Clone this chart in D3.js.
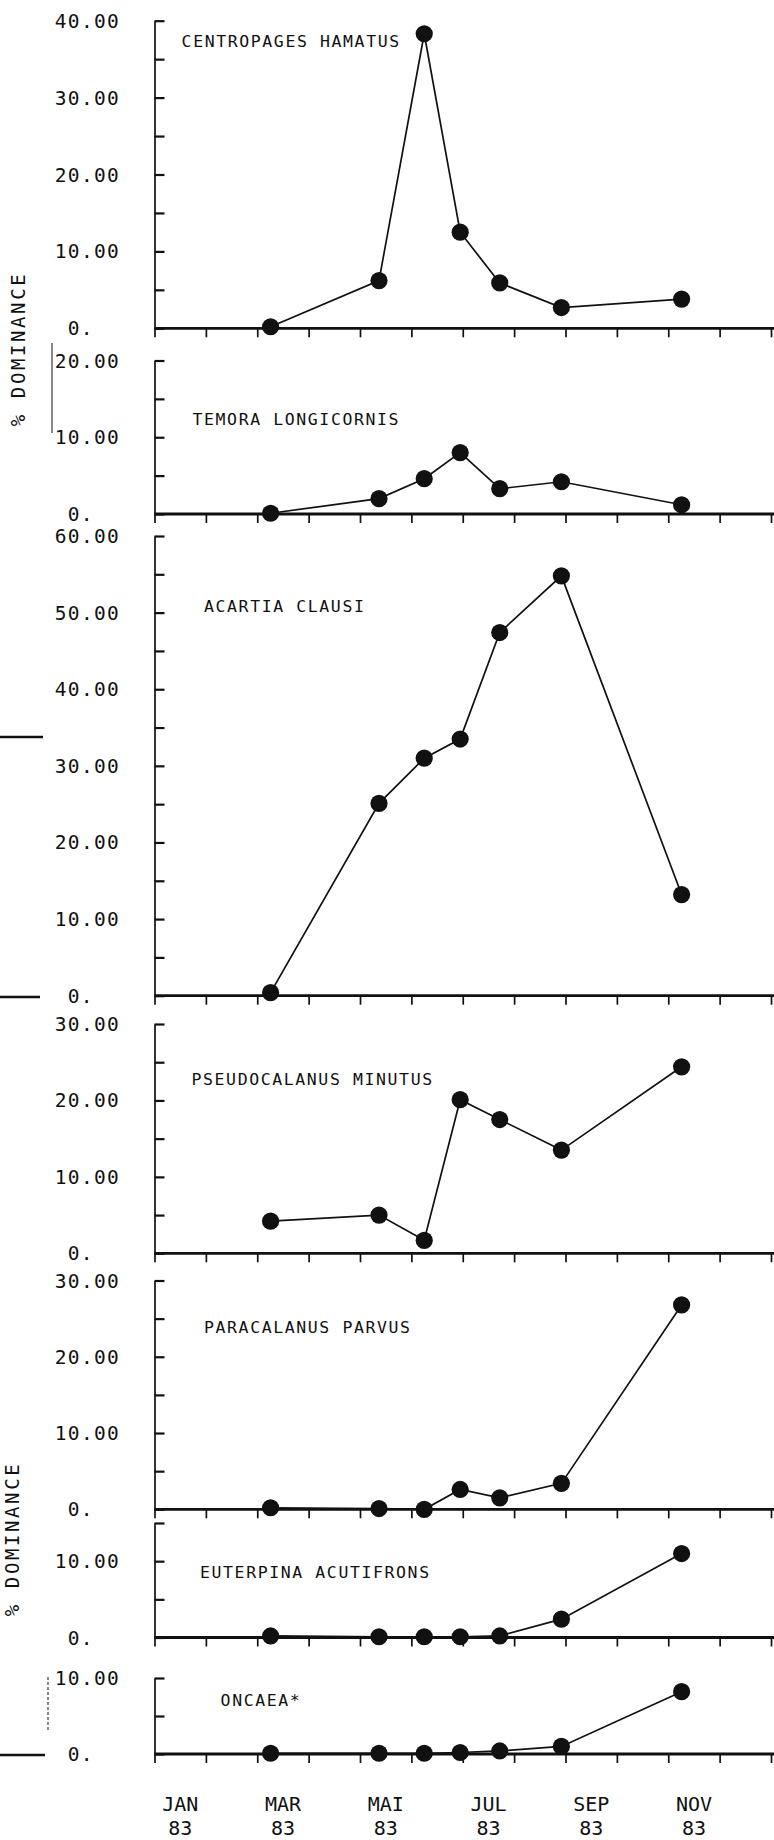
<!DOCTYPE html>
<html><head><meta charset="utf-8">
<script src="https://cdn.jsdelivr.net/npm/d3@7"></script>
<style>
html,body{margin:0;padding:0;background:#fff;}
svg{display:block;}
text{font-family:"DejaVu Sans Mono",monospace;fill:#111;}
</style></head><body>
<svg id="chart" width="774" height="1840"></svg>
<script>
// ---- data ----
const sampleMonths = [2.26, 4.37, 5.25, 5.95, 6.72, 7.92, 10.26]; // months since 1 Jan 1983
const speciesNames = ["CENTROPAGES HAMATUS", "TEMORA LONGICORNIS", "ACARTIA CLAUSI",
  "PSEUDOCALANUS MINUTUS", "PARACALANUS PARVUS", "EUTERPINA ACUTIFRONS", "ONCAEA*"];
const centropages   = [0.2, 6.2, 38.3, 12.5, 5.9, 2.7, 3.8];
const temora        = [0.1, 2.0, 4.6, 8.0, 3.3, 4.2, 1.2];
const acartia       = [0.4, 25.1, 31.0, 33.5, 47.4, 54.8, 13.2];
const pseudocalanus = [4.2, 5.0, 1.7, 20.1, 17.5, 13.5, 24.4];
const paracalanus   = [0.2, 0.1, 0.0, 2.6, 1.5, 3.4, 26.8];
const euterpina     = [0.2, 0.1, 0.1, 0.1, 0.2, 2.4, 11.0];
const oncaea        = [0.1, 0.1, 0.1, 0.2, 0.4, 1.0, 8.2];
const yMaxima       = [40, 20, 60, 30, 30, 15, 10];
const monthLabels   = ["JAN", "MAR", "MAI", "JUL", "SEP", "NOV"];
const monthLabelAt  = [0, 2, 4, 6, 8, 10];
const yearLabel     = "83";
const yTitle        = "% DOMINANCE";

const series = [centropages, temora, acartia, pseudocalanus, paracalanus, euterpina, oncaea];

// ---- layout ----
const layout = [
  {top: 20.7,  zero: 328.3,  lx: 181.6, ly: 46.7},
  {top: 360.5, zero: 514.0,  lx: 192.5, ly: 424.5},
  {top: 536.0, zero: 995.7,  lx: 204.0, ly: 611.7},
  {top: 1024.0,zero: 1253.3, lx: 191.5, ly: 1085.0},
  {top: 1280.5,zero: 1509.3, lx: 204.0, ly: 1333.3},
  {top: 1523.0,zero: 1637.5, lx: 200.0, ly: 1578.3},
  {top: 1678.0,zero: 1754.0, lx: 220.6, ly: 1706.0}
];
const ink = "#111";
const svg = d3.select("#chart");
svg.append("rect").attr("width",774).attr("height",1840).attr("fill","#fff");

const x = d3.scaleLinear().domain([0, 12]).range([154.5, 771]);

series.forEach((vals, i) => {
  const L = layout[i];
  const max = yMaxima[i];
  const y = d3.scaleLinear().domain([0, max]).range([L.zero, L.top]);
  const g = svg.append("g");

  // y axis (ticks point right)
  g.append("g").attr("transform", `translate(${x(0)},0)`)
    .call(d3.axisRight(y).tickValues(d3.range(0, max + 0.01, 5)).tickSize(10).tickSizeOuter(0).tickFormat(""))
    .call(a => {
      a.select(".domain").attr("stroke", ink).attr("stroke-width", 1.7);
      a.selectAll(".tick line").attr("stroke", ink).attr("stroke-width", 2.2);
    });

  // x axis at zero
  g.append("g").attr("transform", `translate(0,${L.zero})`)
    .call(d3.axisBottom(x).tickValues(d3.range(0, 13)).tickSize(9).tickSizeOuter(0).tickFormat(""))
    .call(a => {
      a.select(".domain").remove();
      a.selectAll(".tick line").attr("stroke", ink).attr("stroke-width", 1.7);
    });
  g.append("line").attr("x1", x(0)).attr("x2", 774).attr("y1", L.zero).attr("y2", L.zero)
    .attr("stroke", ink).attr("stroke-width", 2.8);

  // y tick labels (decimal aligned)
  g.selectAll("text.yl").data(d3.range(0, max + 0.01, 10)).join("text")
    .attr("class", "yl")
    .attr("x", 120).attr("y", d => y(d)).attr("dy", "0.36em")
    .attr("text-anchor", "end")
    .attr("xml:space", "preserve").style("white-space", "pre")
    .style("font-size", "19.5px").style("letter-spacing", "1.3px")
    .text(d => d === 0 ? "0.  " : d.toFixed(2));

  // series label
  g.append("text").attr("x", L.lx).attr("y", L.ly)
    .style("font-size", "16.5px").style("letter-spacing", "1.6px")
    .text(speciesNames[i]);

  // line + markers
  const pts = sampleMonths.map((m, k) => [m, vals[k]]);
  g.append("path").datum(pts)
    .attr("d", d3.line().x(d => x(d[0])).y(d => y(d[1])))
    .attr("fill", "none").attr("stroke", ink).attr("stroke-width", 1.7);
  g.selectAll("circle").data(pts).join("circle")
    .attr("cx", d => x(d[0])).attr("cy", d => y(d[1])).attr("r", 8.6)
    .attr("fill", ink);
});

// month labels (two lines)
const ml = svg.append("g");
monthLabels.forEach((m, i) => {
  const cx = x(monthLabelAt[i] + 0.5);
  ml.append("text").attr("x", cx).attr("y", 1811).attr("text-anchor", "middle")
    .style("font-size", "20px").text(m);
  ml.append("text").attr("x", cx).attr("y", 1835).attr("text-anchor", "middle")
    .style("font-size", "20px").text(yearLabel);
});

// y titles
[[18, 349], [12, 1539]].forEach(([tx, ty]) => {
  svg.append("text").attr("transform", `translate(${tx},${ty}) rotate(-90)`)
    .attr("text-anchor", "middle").attr("dy", "0.36em")
    .style("font-size", "19px").style("letter-spacing", "2.6px")
    .text(yTitle);
});

// scan / paste-up marks visible in the original
const marks = svg.append("g").attr("stroke", ink);
marks.append("line").attr("x1", 52).attr("x2", 52).attr("y1", 343).attr("y2", 433).attr("stroke-width", 1);
marks.append("line").attr("x1", 0).attr("x2", 43).attr("y1", 737).attr("y2", 737).attr("stroke-width", 2.5);
marks.append("line").attr("x1", 0).attr("x2", 40).attr("y1", 997).attr("y2", 997).attr("stroke-width", 2.5);
marks.append("line").attr("x1", 0).attr("x2", 45).attr("y1", 1755).attr("y2", 1755).attr("stroke-width", 2.5);
marks.append("line").attr("x1", 48).attr("x2", 48).attr("y1", 1677).attr("y2", 1732).attr("stroke-width", 1).attr("stroke-dasharray", "3,2");
</script>
</body></html>
